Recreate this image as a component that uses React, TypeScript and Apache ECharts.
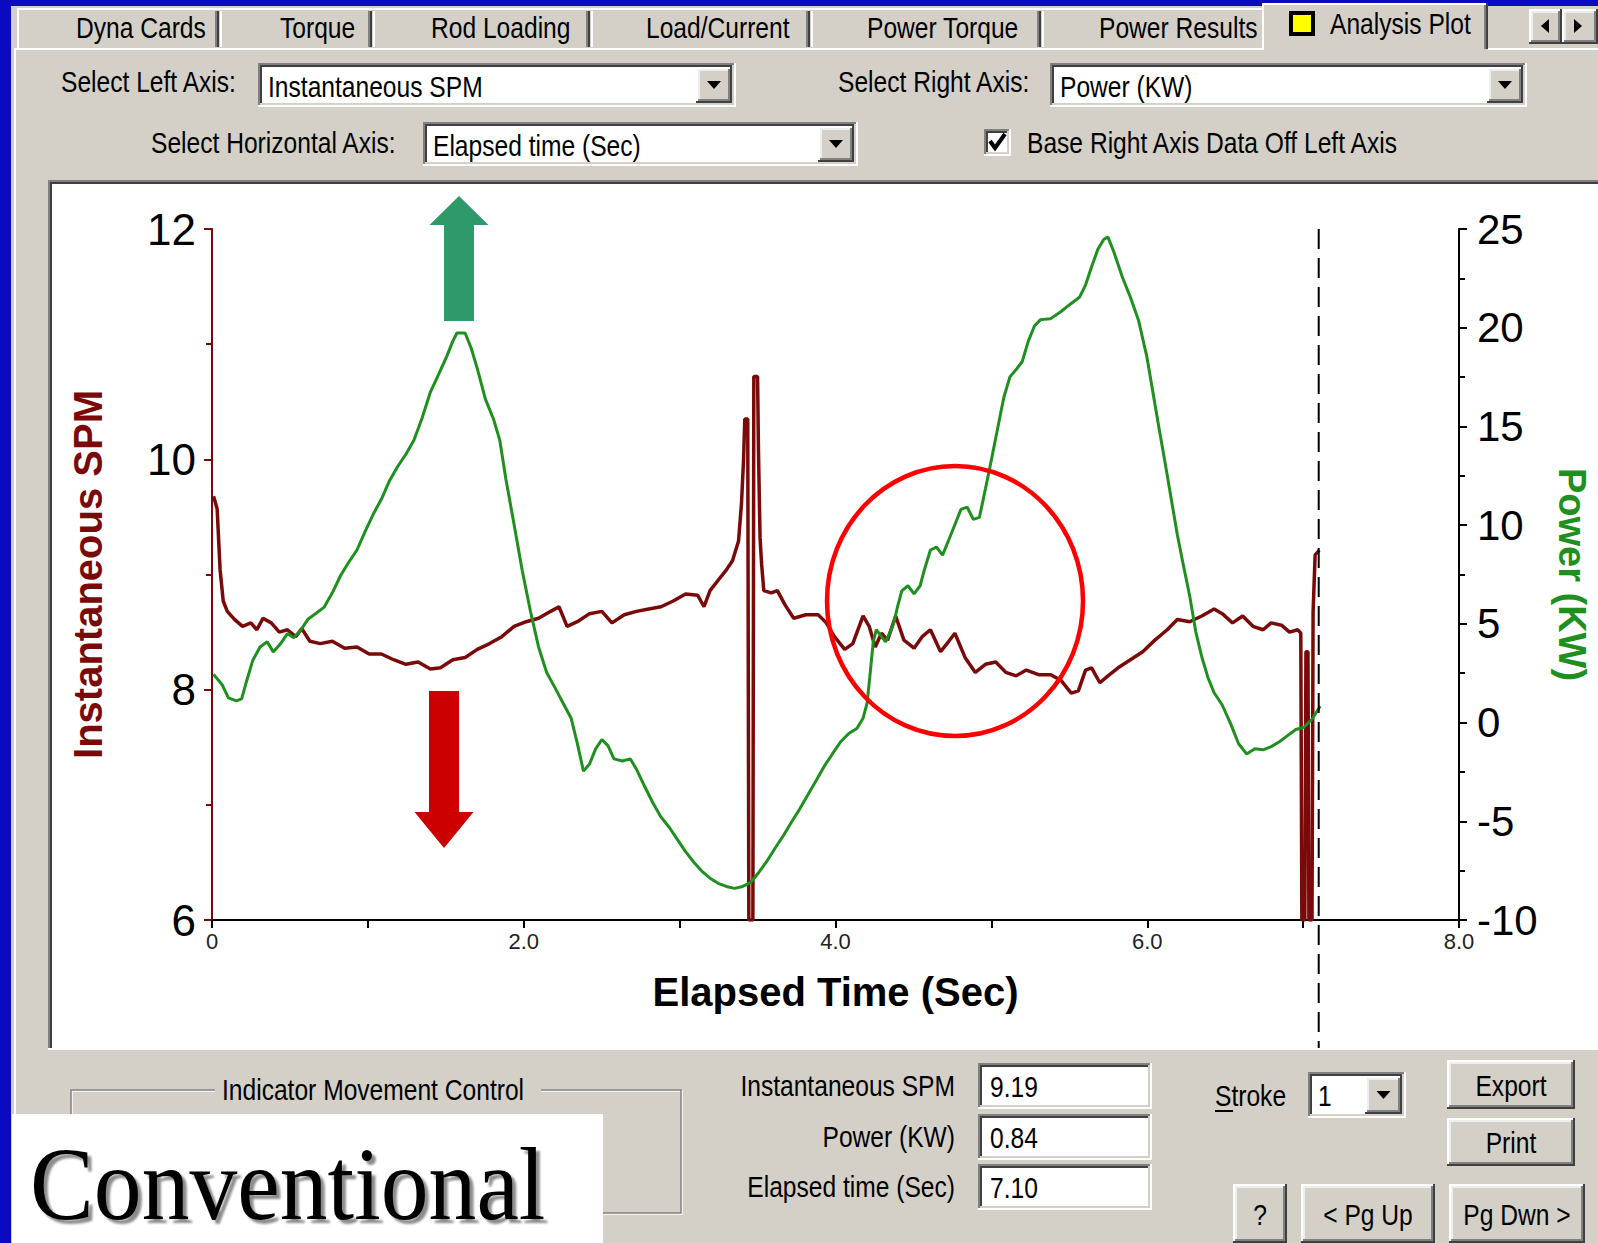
import React, { useEffect, useRef } from 'react';
import * as echarts from 'echarts';

// ---------- data ----------
const TABS = ['Dyna Cards', 'Torque', 'Rod Loading', 'Load/Current', 'Power Torque', 'Power Results'];
const TAB_X = [76, 280, 431, 646, 867, 1099];
const TAB_SEPARATORS = [217, 370, 588, 808, 1039];
const ACTIVE_TAB = 'Analysis Plot';

const LEFT_AXIS_NAME = 'Instantaneous SPM';
const RIGHT_AXIS_NAME = 'Power (KW)';
const X_AXIS_NAME = 'Elapsed Time (Sec)';

const LEFT_RANGE = [6, 12];
const RIGHT_RANGE = [-10, 25];
const TIME_RANGE = [0, 8];

// Instantaneous SPM (left axis): [time s, SPM]
const SPM_POINTS = [
  [0.01, 9.68], [0.033, 9.57], [0.052, 9.04], [0.072, 8.77], [0.098, 8.68], [0.144, 8.61], [0.196, 8.55],
  [0.249, 8.58], [0.288, 8.52], [0.327, 8.62], [0.38, 8.58], [0.432, 8.5], [0.484, 8.52], [0.537, 8.46],
  [0.576, 8.53], [0.628, 8.42], [0.694, 8.4], [0.772, 8.42], [0.851, 8.36], [0.93, 8.37], [1.008, 8.31],
  [1.087, 8.31], [1.165, 8.26], [1.244, 8.22], [1.322, 8.24], [1.401, 8.18], [1.466, 8.19], [1.545, 8.26],
  [1.624, 8.28], [1.702, 8.35], [1.781, 8.4], [1.859, 8.46], [1.938, 8.55], [2.016, 8.59], [2.095, 8.62],
  [2.173, 8.68], [2.226, 8.72], [2.278, 8.55], [2.344, 8.59], [2.422, 8.66], [2.501, 8.68], [2.566, 8.58],
  [2.645, 8.65], [2.723, 8.68], [2.802, 8.7], [2.881, 8.72], [2.959, 8.77], [3.038, 8.83], [3.116, 8.82],
  [3.156, 8.72], [3.195, 8.86], [3.247, 8.95], [3.3, 9.04], [3.339, 9.12], [3.378, 9.29], [3.397, 9.62],
  [3.41, 9.99], [3.418, 10.35], [3.437, 10.35], [3.444, 6.0], [3.47, 6.0], [3.476, 10.72], [3.5, 10.72],
  [3.506, 10.06], [3.516, 9.32], [3.526, 9.09], [3.54, 8.86], [3.588, 8.84], [3.627, 8.86], [3.679, 8.73],
  [3.732, 8.62], [3.81, 8.65], [3.889, 8.65], [3.941, 8.58], [3.993, 8.46], [4.059, 8.35], [4.111, 8.4],
  [4.177, 8.64], [4.216, 8.55], [4.255, 8.37], [4.295, 8.49], [4.334, 8.43], [4.386, 8.64], [4.439, 8.43],
  [4.504, 8.36], [4.556, 8.46], [4.609, 8.52], [4.674, 8.33], [4.727, 8.42], [4.766, 8.49], [4.831, 8.28],
  [4.897, 8.15], [4.962, 8.22], [5.028, 8.24], [5.093, 8.15], [5.159, 8.12], [5.224, 8.17], [5.303, 8.13],
  [5.381, 8.13], [5.447, 8.08], [5.512, 7.97], [5.558, 7.99], [5.604, 8.17], [5.643, 8.19], [5.696, 8.06],
  [5.748, 8.12], [5.813, 8.19], [5.892, 8.26], [5.971, 8.33], [6.049, 8.43], [6.128, 8.52], [6.193, 8.61],
  [6.272, 8.59], [6.35, 8.64], [6.429, 8.7], [6.481, 8.66], [6.547, 8.58], [6.612, 8.64], [6.678, 8.55],
  [6.743, 8.52], [6.795, 8.58], [6.861, 8.56], [6.913, 8.5], [6.966, 8.52], [6.985, 8.49], [6.992, 6.0],
  [7.011, 6.0], [7.018, 8.33], [7.031, 8.33], [7.037, 6.0], [7.057, 6.0], [7.064, 8.68], [7.077, 9.17],
  [7.103, 9.21],
];

// Power (KW) (right axis): [time s, KW]
const POWER_POINTS = [
  [0.01, 2.44], [0.065, 1.92], [0.105, 1.25], [0.157, 1.1], [0.19, 1.2], [0.223, 2.13], [0.262, 3.16],
  [0.308, 3.83], [0.354, 4.09], [0.393, 3.58], [0.439, 3.99], [0.484, 4.51], [0.524, 4.3], [0.563, 4.61],
  [0.615, 5.23], [0.668, 5.54], [0.72, 5.85], [0.772, 6.57], [0.825, 7.45], [0.877, 8.12], [0.93, 8.74],
  [0.982, 9.67], [1.034, 10.55], [1.087, 11.32], [1.139, 12.25], [1.191, 12.97], [1.244, 13.59],
  [1.296, 14.31], [1.349, 15.45], [1.401, 16.74], [1.453, 17.62], [1.506, 18.55], [1.545, 19.32],
  [1.571, 19.73], [1.624, 19.73], [1.663, 18.96], [1.702, 17.93], [1.754, 16.38], [1.807, 15.35],
  [1.846, 14.31], [1.885, 12.35], [1.938, 10.03], [1.99, 7.71], [2.043, 5.64], [2.095, 3.83], [2.147, 2.54],
  [2.2, 1.77], [2.252, 0.99], [2.304, 0.22], [2.344, -1.07], [2.383, -2.46], [2.422, -2.1], [2.461, -1.33],
  [2.501, -0.86], [2.54, -1.17], [2.579, -1.84], [2.632, -1.95], [2.684, -1.84], [2.723, -2.36],
  [2.776, -3.24], [2.828, -4.06], [2.881, -4.79], [2.933, -5.3], [2.985, -5.92], [3.038, -6.54],
  [3.09, -7.06], [3.142, -7.52], [3.195, -7.88], [3.247, -8.14], [3.3, -8.3], [3.352, -8.4], [3.404, -8.3],
  [3.457, -8.09], [3.509, -7.58], [3.561, -7.01], [3.614, -6.34], [3.666, -5.72], [3.718, -5.04],
  [3.771, -4.37], [3.823, -3.65], [3.876, -2.93], [3.928, -2.21], [3.98, -1.59], [4.033, -0.97],
  [4.085, -0.55], [4.137, -0.3], [4.177, 0.22], [4.203, 1.0], [4.223, 2.54], [4.242, 4.09], [4.262, 4.71],
  [4.295, 4.35], [4.321, 4.09], [4.347, 4.51], [4.373, 5.02], [4.399, 5.9], [4.425, 6.67], [4.465, 6.93],
  [4.504, 6.52], [4.543, 6.93], [4.569, 7.71], [4.609, 8.74], [4.648, 8.89], [4.687, 8.48], [4.727, 9.26],
  [4.766, 10.03], [4.805, 10.8], [4.845, 10.91], [4.884, 10.29], [4.923, 10.39], [4.962, 11.84],
  [5.002, 13.38], [5.041, 14.93], [5.08, 16.48], [5.119, 17.51], [5.159, 17.88], [5.198, 18.29],
  [5.237, 19.32], [5.277, 20.1], [5.316, 20.41], [5.381, 20.46], [5.447, 20.82], [5.512, 21.23],
  [5.565, 21.54], [5.604, 22.16], [5.643, 23.09], [5.683, 23.97], [5.722, 24.48], [5.748, 24.59],
  [5.787, 23.81], [5.84, 22.57], [5.892, 21.54], [5.945, 20.35], [5.997, 18.55], [6.036, 16.74],
  [6.075, 14.93], [6.115, 13.13], [6.154, 11.32], [6.193, 9.51], [6.232, 7.96], [6.272, 6.42],
  [6.311, 4.61], [6.35, 3.32], [6.389, 2.29], [6.429, 1.51], [6.481, 0.89], [6.534, -0.04], [6.586, -1.07],
  [6.638, -1.59], [6.69, -1.33], [6.743, -1.38], [6.795, -1.22], [6.848, -0.97], [6.9, -0.66],
  [6.953, -0.35], [7.005, -0.24], [7.057, 0.17], [7.11, 0.84],
];

const CURSOR_TIME = 7.1;
const READOUT_LABELS = ['Instantaneous SPM', 'Power (KW)', 'Elapsed time (Sec)'];
const READOUT_VALUES = ['9.19', '0.84', '7.10'];
const STROKE_VALUE = '1';

// ---------- styling helpers ----------
const GRAY = '#d4d0c8';
const UI_FONT = '"Liberation Sans", Arial, sans-serif';
const AXIS_FONT = '"Liberation Sans", Arial, sans-serif';
const MAROON = '#7a0a0a';
const GREEN = '#1f8f1f';

const uiText = (x: number, y: number, text: string, align = 'left', z = -3, size = 30) => ({
  type: 'text',
  x,
  y,
  scaleX: 0.82,
  z,
  style: {
    text,
    fill: '#000',
    font: `${size}px ${UI_FONT}`,
    textAlign: align,
    align,
    textVerticalAlign: 'middle',
    verticalAlign: 'middle',
  },
});

const rect = (x: number, y: number, w: number, h: number, fill: string, z = -5) => ({
  type: 'rect',
  z,
  shape: { x, y, width: w, height: h },
  style: { fill },
});

const edge = (x: number, y: number, w: number, h: number, tl: string, br: string, z = -5, t = 2) => [
  rect(x, y, w, t, tl, z),
  rect(x, y, t, h, tl, z),
  rect(x, y + h - t, w, t, br, z),
  rect(x + w - t, y, t, h, br, z),
];

const sunken = (x: number, y: number, w: number, h: number, fill = '#ffffff', z = -5) => [
  rect(x, y, w, h, fill, z),
  ...edge(x, y, w, h, '#808080', '#ffffff', z),
  ...edge(x + 2, y + 2, w - 4, h - 4, '#404040', GRAY, z),
];

const raised = (x: number, y: number, w: number, h: number, z = -5) => [
  rect(x, y, w, h, GRAY, z),
  ...edge(x, y, w, h, '#ffffff', '#404040', z),
  ...edge(x + 2, y + 2, w - 4, h - 4, '#eeeeee', '#808080', z),
];

const tri = (pts: number[][], z = -4) => ({ type: 'polygon', z, shape: { points: pts }, style: { fill: '#000' } });

const downTri = (cx: number, cy: number, z = -4) => tri([[cx - 7, cy - 4], [cx + 7, cy - 4], [cx, cy + 4]], z);

const combo = (x: number, y: number, w: number, h: number, label: string) => [
  ...sunken(x, y, w, h),
  ...raised(x + w - 40, y + 4, 36, h - 8),
  downTri(x + w - 22, y + h / 2),
  uiText(x + 10, y + h / 2 + 2, label),
];

const button = (x: number, y: number, w: number, h: number, label: string) => [
  ...raised(x, y, w, h),
  uiText(x + w / 2, y + h / 2 + 1, label, 'center'),
];

function buildChrome() {
  const els: any[] = [];
  // dialog body
  els.push(rect(11, 6, 1587, 1237, GRAY, -9));
  // tab strip
  els.push(rect(17, 8, 1245, 2, '#ffffff', -6));
  els.push(rect(17, 8, 2, 41, '#ffffff', -6));
  TAB_SEPARATORS.forEach((sx) => {
    els.push(rect(sx - 2, 11, 2, 36, '#808080', -6));
    els.push(rect(sx, 11, 2, 36, '#404040', -6));
    els.push(rect(sx + 3, 11, 2, 36, '#ffffff', -6));
  });
  TABS.forEach((t, i) => els.push(uiText(TAB_X[i], 28, t)));
  // active tab
  els.push(rect(1262, 3, 226, 47, GRAY, -6));
  els.push(rect(1262, 3, 226, 2, '#ffffff', -6));
  els.push(rect(1262, 3, 2, 47, '#ffffff', -6));
  els.push(rect(1486, 3, 2, 46, '#404040', -6));
  els.push(rect(1484, 5, 2, 44, '#808080', -6));
  els.push(rect(1289, 11, 26, 25, '#000000', -5));
  els.push(rect(1293, 15, 18, 17, '#ffff00', -4));
  els.push(uiText(1330, 24, ACTIVE_TAB));
  // content border
  els.push(rect(14, 48, 1248, 2, '#ffffff', -6));
  els.push(rect(1488, 48, 110, 2, '#ffffff', -6));
  els.push(rect(14, 48, 2, 1195, '#ffffff', -6));
  // scroll arrows
  els.push(...raised(1529, 9, 33, 35));
  els.push(...raised(1562, 9, 36, 35));
  els.push(tri([[1541, 26], [1549, 19], [1549, 33]]));
  els.push(tri([[1582, 26], [1574, 19], [1574, 33]]));

  // axis selectors
  els.push(uiText(61, 82, 'Select Left Axis:'));
  els.push(...combo(258, 63, 478, 44, 'Instantaneous SPM'));
  els.push(uiText(838, 82, 'Select Right Axis:'));
  els.push(...combo(1050, 63, 477, 44, 'Power (KW)'));
  els.push(uiText(151, 143, 'Select Horizontal Axis:'));
  els.push(...combo(423, 122, 435, 44, 'Elapsed time (Sec)'));
  els.push(...sunken(984, 129, 27, 27));
  els.push({
    type: 'polyline',
    z: -4,
    shape: { points: [[990, 141], [995, 148], [1005, 134]] },
    style: { stroke: '#000', lineWidth: 4, fill: 'none' },
  });
  els.push(uiText(1027, 143, 'Base Right Axis Data Off Left Axis'));

  // plot panel
  els.push(rect(48, 180, 1550, 870, '#ffffff', -7));
  els.push(rect(48, 180, 1550, 2, '#808080', -6));
  els.push(rect(48, 180, 2, 870, '#808080', -6));
  els.push(rect(50, 182, 1548, 2, '#404040', -6));
  els.push(rect(50, 182, 2, 866, '#404040', -6));
  els.push(rect(48, 1048, 1550, 2, '#ffffff', -6));

  // group box
  els.push({ type: 'rect', z: -6, shape: { x: 72, y: 1091, width: 610, height: 123 }, style: { fill: 'none', stroke: '#ffffff', lineWidth: 1.5 } });
  els.push({ type: 'rect', z: -6, shape: { x: 71, y: 1090, width: 610, height: 123 }, style: { fill: 'none', stroke: '#808080', lineWidth: 1.5 } });
  els.push(rect(215, 1078, 326, 26, GRAY, -5));
  els.push(uiText(222, 1090, 'Indicator Movement Control'));

  // readouts
  const boxY = [1063, 1114, 1164];
  READOUT_LABELS.forEach((l, i) => {
    els.push(uiText(955, boxY[i] + 23, l, 'right'));
    els.push(...sunken(978, boxY[i], 174, 46));
    els.push(uiText(990, boxY[i] + 24, READOUT_VALUES[i]));
  });

  // stroke selector
  els.push(uiText(1215, 1096, 'Stroke'));
  els.push(rect(1215, 1110, 18, 2, '#000', -3));
  els.push(...sunken(1308, 1072, 98, 46));
  els.push(...raised(1365, 1076, 37, 38));
  els.push(downTri(1383.5, 1095));
  els.push(uiText(1318, 1096, STROKE_VALUE));

  // buttons
  els.push(...button(1447, 1060, 128, 49, 'Export'));
  els.push(...button(1447, 1118, 128, 48, 'Print'));
  els.push(...button(1233, 1184, 54, 59, '?'));
  els.push(...button(1301, 1184, 134, 59, '< Pg Up'));
  els.push(...button(1449, 1184, 136, 59, 'Pg Dwn >'));

  // "Conventional" caption
  els.push(rect(12, 1114, 591, 129, '#ffffff', -2));
  els.push({
    type: 'text',
    x: 30,
    y: 1184,
    scaleX: 0.92,
    z: -1,
    style: {
      text: 'Conventional',
      fill: '#000',
      font: '104px "Liberation Serif", "Times New Roman", serif',
      textAlign: 'left',
      align: 'left',
      textVerticalAlign: 'middle',
      verticalAlign: 'middle',
      textShadowColor: 'rgba(0,0,0,0.45)',
      textShadowOffsetX: 4,
      textShadowOffsetY: 4,
      textShadowBlur: 2,
    },
  });

  // annotations
  els.push({
    type: 'polygon',
    z: 10,
    shape: { points: [[459, 196], [488.5, 225], [474, 225], [474, 321], [444, 321], [444, 225], [429.5, 225]] },
    style: { fill: '#2f9a69' },
  });
  els.push({
    type: 'polygon',
    z: 10,
    shape: { points: [[429, 691], [459, 691], [459, 812], [473.5, 812], [444, 848], [414.5, 812], [429, 812]] },
    style: { fill: '#cc0000' },
  });
  els.push({
    type: 'ellipse',
    z: 10,
    shape: { cx: 955, cy: 601, rx: 128, ry: 135 },
    style: { fill: 'none', stroke: '#ff0000', lineWidth: 4.5 },
  });
  return els;
}

export default function App() {
  const ref = useRef<HTMLDivElement>(null);

  useEffect(() => {
    document.body.style.margin = '0';
    if (!ref.current) return;
    const chart = echarts.init(ref.current, null, { renderer: 'svg' });

    const tickStyle = (color: string) => ({ show: true, length: 8, lineStyle: { color, width: 2 } });

    chart.setOption({
      animation: false,
      backgroundColor: '#0a0ac0',
      grid: { left: 212, top: 229, width: 1247, height: 691, containLabel: false, outerBoundsMode: 'none' },
      xAxis: {
        type: 'value',
        min: TIME_RANGE[0],
        max: TIME_RANGE[1],
        interval: 2,
        name: X_AXIS_NAME,
        nameLocation: 'middle',
        nameGap: 52,
        nameTextStyle: { fontFamily: AXIS_FONT, fontSize: 40, fontWeight: 'bold', color: '#000' },
        axisLine: { onZero: false, lineStyle: { color: '#000', width: 2 } },
        axisTick: tickStyle('#000'),
        minorTick: { show: true, splitNumber: 2, length: 8, lineStyle: { color: '#000', width: 2 } },
        splitLine: { show: false },
        minorSplitLine: { show: false },
        axisLabel: {
          fontFamily: AXIS_FONT,
          fontSize: 22,
          color: '#222',
          margin: 10,
          formatter: (v: number) => (v === 0 ? '0' : v.toFixed(1)),
        },
      },
      yAxis: [
        {
          type: 'value',
          position: 'left',
          min: LEFT_RANGE[0],
          max: LEFT_RANGE[1],
          interval: 2,
          name: LEFT_AXIS_NAME,
          nameLocation: 'middle',
          nameRotate: 90,
          nameGap: 104,
          nameTextStyle: { fontFamily: AXIS_FONT, fontSize: 40, fontWeight: 'bold', color: MAROON },
          axisLine: { show: true, onZero: false, lineStyle: { color: MAROON, width: 2 } },
          axisTick: tickStyle(MAROON),
          minorTick: { show: true, splitNumber: 2, length: 6, lineStyle: { color: MAROON, width: 2 } },
          splitLine: { show: false },
          axisLabel: { fontFamily: AXIS_FONT, fontSize: 44, color: '#000', margin: 16 },
        },
        {
          type: 'value',
          position: 'right',
          min: RIGHT_RANGE[0],
          max: RIGHT_RANGE[1],
          interval: 5,
          name: RIGHT_AXIS_NAME,
          nameLocation: 'middle',
          nameRotate: -90,
          nameGap: 94,
          nameTextStyle: { fontFamily: AXIS_FONT, fontSize: 38, fontWeight: 'bold', color: GREEN },
          axisLine: { show: true, onZero: false, lineStyle: { color: '#000', width: 2 } },
          axisTick: tickStyle('#000'),
          minorTick: { show: true, splitNumber: 2, length: 6, lineStyle: { color: '#000', width: 2 } },
          splitLine: { show: false },
          axisLabel: { fontFamily: AXIS_FONT, fontSize: 42, color: '#000', margin: 18 },
        },
      ],
      series: [
        {
          name: LEFT_AXIS_NAME,
          type: 'line',
          yAxisIndex: 0,
          data: SPM_POINTS,
          showSymbol: false,
          symbol: 'none',
          lineStyle: { color: MAROON, width: 3.5 },
          z: 3,
        },
        {
          name: RIGHT_AXIS_NAME,
          type: 'line',
          yAxisIndex: 1,
          data: POWER_POINTS,
          showSymbol: false,
          symbol: 'none',
          lineStyle: { color: GREEN, width: 3 },
          z: 4,
        },
        {
          name: 'cursor',
          type: 'custom',
          xAxisIndex: 0,
          yAxisIndex: 0,
          clip: false,
          silent: true,
          z: 5,
          data: [[CURSOR_TIME, LEFT_RANGE[0]]],
          encode: { x: 0, y: 1 },
          renderItem: (_p: any, api: any) => {
            const t = api.value(0);
            const top = api.coord([t, LEFT_RANGE[1]]);
            const bottom = api.coord([t, LEFT_RANGE[0]]);
            return {
              type: 'line',
              shape: { x1: top[0], y1: top[1], x2: top[0], y2: bottom[1] + 128 },
              style: { stroke: '#000', lineWidth: 2, lineDash: [20, 9] },
            };
          },
        },
      ],
      graphic: { elements: buildChrome() },
    });

    return () => chart.dispose();
  }, []);

  return <div ref={ref} style={{ width: 1598, height: 1243, display: 'block' }} />;
}
